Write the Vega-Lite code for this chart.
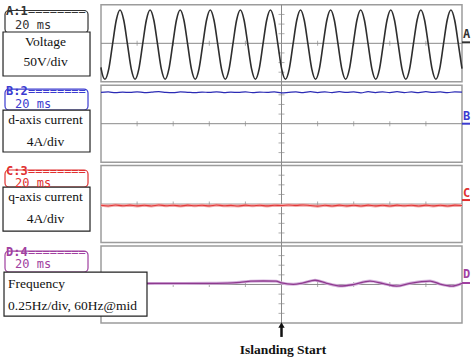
{
"$schema":"https://vega.github.io/schema/vega-lite/v6.json",
"width":474,"height":361,"padding":0,"autosize":{"type":"none"},"background":"white",
"config":{"view":{"stroke":null}},
"datasets":{
"sine":[{"t":-100,"v":-125},{"t":-99.89,"v":-134},{"t":-97.80,"v":-187},{"t":-95.72,"v":-134},{"t":-93.64,"v":-7},{"t":-91.55,"v":120},{"t":-89.47,"v":173},{"t":-87.39,"v":120},{"t":-85.30,"v":-7},{"t":-83.22,"v":-134},{"t":-81.14,"v":-187},{"t":-79.05,"v":-134},{"t":-76.97,"v":-7},{"t":-74.89,"v":120},{"t":-72.80,"v":173},{"t":-70.72,"v":120},{"t":-68.64,"v":-7},{"t":-66.55,"v":-134},{"t":-64.47,"v":-187},{"t":-62.39,"v":-134},{"t":-60.30,"v":-7},{"t":-58.22,"v":120},{"t":-56.14,"v":173},{"t":-54.05,"v":120},{"t":-51.97,"v":-7},{"t":-49.89,"v":-134},{"t":-47.80,"v":-187},{"t":-45.72,"v":-134},{"t":-43.64,"v":-7},{"t":-41.55,"v":120},{"t":-39.47,"v":173},{"t":-37.39,"v":120},{"t":-35.30,"v":-7},{"t":-33.22,"v":-134},{"t":-31.14,"v":-187},{"t":-29.05,"v":-134},{"t":-26.97,"v":-7},{"t":-24.89,"v":120},{"t":-22.80,"v":173},{"t":-20.72,"v":120},{"t":-18.64,"v":-7},{"t":-16.55,"v":-134},{"t":-14.47,"v":-187},{"t":-12.39,"v":-134},{"t":-10.30,"v":-7},{"t":-8.22,"v":120},{"t":-6.14,"v":173},{"t":-4.05,"v":120},{"t":-1.97,"v":-7},{"t":0.11,"v":-134},{"t":2.20,"v":-187},{"t":4.28,"v":-134},{"t":6.36,"v":-7},{"t":8.45,"v":120},{"t":10.53,"v":173},{"t":12.61,"v":120},{"t":14.70,"v":-7},{"t":16.78,"v":-134},{"t":18.86,"v":-187},{"t":20.95,"v":-134},{"t":23.03,"v":-7},{"t":25.11,"v":120},{"t":27.20,"v":173},{"t":29.28,"v":120},{"t":31.36,"v":-7},{"t":33.45,"v":-134},{"t":35.53,"v":-187},{"t":37.61,"v":-134},{"t":39.70,"v":-7},{"t":41.78,"v":120},{"t":43.86,"v":173},{"t":45.95,"v":120},{"t":48.03,"v":-7},{"t":50.11,"v":-134},{"t":52.20,"v":-187},{"t":54.28,"v":-134},{"t":56.36,"v":-7},{"t":58.45,"v":120},{"t":60.53,"v":173},{"t":62.61,"v":120},{"t":64.70,"v":-7},{"t":66.78,"v":-134},{"t":68.86,"v":-187},{"t":70.95,"v":-134},{"t":73.03,"v":-7},{"t":75.11,"v":120},{"t":77.20,"v":173},{"t":79.28,"v":120},{"t":81.36,"v":-7},{"t":83.45,"v":-134},{"t":85.53,"v":-187},{"t":87.61,"v":-134},{"t":89.70,"v":-7},{"t":91.78,"v":120},{"t":93.86,"v":173},{"t":95.95,"v":120},{"t":98.03,"v":-7},{"t":100,"v":-132}],
"dcur":[{"t":-100,"i":13.0},{"t":-96,"i":13.2},{"t":-92,"i":12.9},{"t":-88,"i":13.1},{"t":-84,"i":13.0},{"t":-80,"i":13.25},{"t":-76,"i":12.95},{"t":-72,"i":13.1},{"t":-68,"i":13.3},{"t":-64,"i":13.0},{"t":-60,"i":12.9},{"t":-56,"i":13.2},{"t":-52,"i":13.05},{"t":-48,"i":12.9},{"t":-44,"i":13.15},{"t":-40,"i":13.0},{"t":-36,"i":13.25},{"t":-32,"i":12.95},{"t":-28,"i":13.1},{"t":-24,"i":13.0},{"t":-20,"i":13.2},{"t":-16,"i":12.95},{"t":-12,"i":13.1},{"t":-8,"i":13.05},{"t":-4,"i":13.2},{"t":0,"i":12.8},{"t":4,"i":13.0},{"t":8,"i":13.2},{"t":12,"i":12.9},{"t":16,"i":13.3},{"t":20,"i":12.95},{"t":24,"i":13.25},{"t":28,"i":12.9},{"t":32,"i":13.3},{"t":36,"i":13.0},{"t":40,"i":13.25},{"t":44,"i":12.85},{"t":48,"i":13.3},{"t":52,"i":12.95},{"t":56,"i":13.25},{"t":60,"i":12.9},{"t":64,"i":13.3},{"t":68,"i":12.95},{"t":72,"i":13.2},{"t":76,"i":12.9},{"t":80,"i":13.3},{"t":84,"i":13.0},{"t":88,"i":13.2},{"t":92,"i":12.9},{"t":96,"i":13.25},{"t":100,"i":13.1}],
"qcur":[{"t":-100,"i":-0.5},{"t":-96,"i":-0.8},{"t":-92,"i":-0.4},{"t":-88,"i":-0.7},{"t":-84,"i":-0.45},{"t":-80,"i":-0.75},{"t":-76,"i":-0.5},{"t":-72,"i":-0.8},{"t":-68,"i":-0.4},{"t":-64,"i":-0.7},{"t":-60,"i":-0.5},{"t":-56,"i":-0.8},{"t":-52,"i":-0.45},{"t":-48,"i":-0.7},{"t":-44,"i":-0.5},{"t":-40,"i":-0.75},{"t":-36,"i":-0.4},{"t":-32,"i":-0.7},{"t":-28,"i":-0.55},{"t":-24,"i":-0.8},{"t":-20,"i":-0.45},{"t":-16,"i":-0.7},{"t":-12,"i":-0.5},{"t":-8,"i":-0.75},{"t":-4,"i":-0.5},{"t":0,"i":-0.6},{"t":4,"i":-0.4},{"t":8,"i":-0.55},{"t":12,"i":-0.35},{"t":16,"i":-0.6},{"t":20,"i":-0.85},{"t":24,"i":-0.5},{"t":28,"i":-0.8},{"t":32,"i":-0.45},{"t":36,"i":-0.75},{"t":40,"i":-0.5},{"t":44,"i":-0.8},{"t":48,"i":-0.45},{"t":52,"i":-0.75},{"t":56,"i":-0.5},{"t":60,"i":-0.8},{"t":64,"i":-0.45},{"t":68,"i":-0.7},{"t":72,"i":-0.5},{"t":76,"i":-0.8},{"t":80,"i":-0.45},{"t":84,"i":-0.75},{"t":88,"i":-0.5},{"t":92,"i":-0.8},{"t":96,"i":-0.45},{"t":100,"i":-0.6}],
"freq":[{"t":-100,"f":60.023},{"t":-80,"f":60.025},{"t":-60,"f":60.027},{"t":-40,"f":60.03},{"t":-30,"f":60.035},{"t":-23,"f":60.055},{"t":-17,"f":60.085},{"t":-10,"f":60.09},{"t":-3,"f":60.085},{"t":0,"f":60.04},{"t":6.5,"f":60.003},{"t":12,"f":60.04},{"t":18.6,"f":60.11},{"t":25,"f":60.03},{"t":32.4,"f":59.96},{"t":39.8,"f":59.997},{"t":49,"f":60.088},{"t":56.4,"f":60.023},{"t":63.8,"f":59.958},{"t":71.2,"f":60.03},{"t":82.3,"f":60.088},{"t":87.8,"f":60.01},{"t":94.3,"f":59.958},{"t":100,"f":60.03}],
"frames":[{"panel":"A","t":-100,"t2":100,"g":0.5,"g2":8.5},{"panel":"B","t":-100,"t2":100,"g":8.85,"g2":16.85},{"panel":"C","t":-100,"t2":100,"g":17.2,"g2":25.2},{"panel":"D","t":-100,"t2":100,"g":25.55,"g2":33.55}],
"centers":[{"t":-100,"t2":100,"g":4.5},{"t":-100,"t2":100,"g":12.85},{"t":-100,"t2":100,"g":21.2},{"t":-100,"t2":100,"g":29.55}],
"vline":[{"t":0,"g":0.5,"g2":33.55}],
"hticks":[{"t":-80,"g":4.5},{"t":-60,"g":4.5},{"t":-40,"g":4.5},{"t":-20,"g":4.5},{"t":20,"g":4.5},{"t":40,"g":4.5},{"t":60,"g":4.5},{"t":80,"g":4.5},{"t":-80,"g":12.85},{"t":-60,"g":12.85},{"t":-40,"g":12.85},{"t":-20,"g":12.85},{"t":20,"g":12.85},{"t":40,"g":12.85},{"t":60,"g":12.85},{"t":80,"g":12.85},{"t":-80,"g":21.2},{"t":-60,"g":21.2},{"t":-40,"g":21.2},{"t":-20,"g":21.2},{"t":20,"g":21.2},{"t":40,"g":21.2},{"t":60,"g":21.2},{"t":80,"g":21.2},{"t":-80,"g":29.55},{"t":-60,"g":29.55},{"t":-40,"g":29.55},{"t":-20,"g":29.55},{"t":20,"g":29.55},{"t":40,"g":29.55},{"t":60,"g":29.55},{"t":80,"g":29.55}],
"vticks":[{"t":0,"g":1.5},{"t":0,"g":2.5},{"t":0,"g":3.5},{"t":0,"g":5.5},{"t":0,"g":6.5},{"t":0,"g":7.5},{"t":0,"g":9.85},{"t":0,"g":10.85},{"t":0,"g":11.85},{"t":0,"g":13.85},{"t":0,"g":14.85},{"t":0,"g":15.85},{"t":0,"g":18.2},{"t":0,"g":19.2},{"t":0,"g":20.2},{"t":0,"g":22.2},{"t":0,"g":23.2},{"t":0,"g":24.2},{"t":0,"g":26.55},{"t":0,"g":27.55},{"t":0,"g":28.55},{"t":0,"g":30.55},{"t":0,"g":31.55},{"t":0,"g":32.55}],
"tabs":[{"ch":"A","t":-153.19,"t2":-107.2,"g":1.09,"g2":3.43},{"ch":"B","t":-153.19,"t2":-107.2,"g":9.25,"g2":11.43},{"ch":"C","t":-153.19,"t2":-107.2,"g":17.66,"g2":19.43},{"ch":"D","t":-153.19,"t2":-107.2,"g":26.08,"g2":28.26}],
"boxes":[{"t":-154.29,"t2":-106.09,"g":3.325,"g2":7.896},{"t":-154.29,"t2":-106.09,"g":11.43,"g2":15.79},{"t":-154.29,"t2":-106.09,"g":19.43,"g2":24.0},{"t":-153.74,"t2":-74.52,"g":28.26,"g2":32.83}],
"boxtextC":[{"label":"Voltage","t":-130.75,"g":4.33},{"label":"50V/div","t":-130.75,"g":6.47},{"label":"d-axis current","t":-130.75,"g":12.47},{"label":"4A/div","t":-130.75,"g":14.72},{"label":"q-axis current","t":-130.75,"g":20.5},{"label":"4A/div","t":-130.75,"g":22.79}],
"boxtextL":[{"label":"Frequency","t":-151.52,"g":29.51},{"label":"0.25Hz/div, 60Hz@mid","t":-151.52,"g":31.76}],
"hdrBold":[{"ch":"A","label":"A:1","t":-152.63,"g":1.61},{"ch":"B","label":"B:2","t":-152.63,"g":9.92},{"ch":"C","label":"C:3","t":-152.63,"g":18.13},{"ch":"D","label":"D:4","t":-152.63,"g":26.55}],
"hdrNorm":[{"ch":"A","label":"========","t":-140.44,"g":1.61},{"ch":"B","label":"========","t":-140.44,"g":9.92},{"ch":"C","label":"========","t":-140.44,"g":18.13},{"ch":"D","label":"========","t":-140.44,"g":26.55},{"ch":"A","label":"20 ms","t":-147.65,"g":3.01},{"ch":"B","label":"20 ms","t":-147.65,"g":11.27},{"ch":"C","label":"20 ms","t":-147.65,"g":19.38},{"ch":"D","label":"20 ms","t":-147.65,"g":27.79}],
"markers":[{"ch":"A","label":"A","t":100.55,"g":3.95},{"ch":"B","label":"B","t":100.55,"g":12.47},{"ch":"C","label":"C","t":100.55,"g":20.47},{"ch":"D","label":"D","t":100.55,"g":28.88}],
"underl":[{"ch":"A","t":100,"t2":104.43,"g":4.4},{"ch":"B","t":100,"t2":104.43,"g":12.85},{"ch":"C","t":100,"t2":104.43,"g":20.78},{"ch":"D","t":100,"t2":104.43,"g":29.4}],
"arrow":[{"t":0,"g":33.95,"g2":35.0}],
"arrowhead":[{"t":0,"g":33.75}],
"caption":[{"label":"Islanding Start","t":0.83,"g":36.78}]
},
"encoding":{
"x":{"field":"t","type":"quantitative","scale":{"domain":[-155.96,106.65],"nice":false,"zero":false},"axis":null},
"y":{"field":"g","type":"quantitative","scale":{"domain":[0,37.5],"reverse":true,"nice":false,"zero":false},"axis":null}
},
"resolve":{"scale":{"y":"independent"}},
"layer":[
{"data":{"name":"frames"},"mark":{"type":"rect","fill":"white","stroke":"#9c9c9c","strokeWidth":1.5},"encoding":{"x2":{"field":"t2"},"y2":{"field":"g2"}}},
{"data":{"name":"centers"},"mark":{"type":"rule","color":"#8a8a8a","strokeWidth":1},"encoding":{"x2":{"field":"t2"}}},
{"data":{"name":"vline"},"mark":{"type":"rule","color":"#8a8a8a","strokeWidth":1},"encoding":{"y2":{"field":"g2"}}},
{"data":{"name":"hticks"},"mark":{"type":"tick","orient":"vertical","size":5,"thickness":1,"color":"#8a8a8a"}},
{"data":{"name":"vticks"},"mark":{"type":"tick","orient":"horizontal","size":6,"thickness":1,"color":"#8a8a8a"}},
{"data":{"name":"sine"},"mark":{"type":"line","color":"#2e2e2e","strokeWidth":1.6,"interpolate":"monotone"},"encoding":{"y":{"field":"v","type":"quantitative","scale":{"domain":[-1650,225],"nice":false,"zero":false},"axis":null}}},
{"data":{"name":"dcur"},"mark":{"type":"line","color":"#2b2bb5","strokeWidth":1.2,"interpolate":"monotone"},"encoding":{"y":{"field":"i","type":"quantitative","scale":{"domain":[-98.6,51.4],"nice":false,"zero":false},"axis":null}}},
{"data":{"name":"qcur"},"mark":{"type":"line","color":"#f2a8a8","strokeWidth":3,"interpolate":"linear"},"encoding":{"y":{"field":"i","type":"quantitative","scale":{"domain":[-65.2,84.8],"nice":false,"zero":false},"axis":null}}},
{"data":{"name":"qcur"},"mark":{"type":"line","color":"#e03a3a","strokeWidth":1.1,"interpolate":"monotone"},"encoding":{"y":{"field":"i","type":"quantitative","scale":{"domain":[-65.2,84.8],"nice":false,"zero":false},"axis":null}}},
{"data":{"name":"freq"},"mark":{"type":"line","color":"#d4b0dc","strokeWidth":3,"interpolate":"monotone"},"encoding":{"y":{"field":"f","type":"quantitative","scale":{"domain":[58.0125,67.3875],"nice":false,"zero":false},"axis":null}}},
{"data":{"name":"freq"},"mark":{"type":"line","color":"#8e3a8e","strokeWidth":1.3,"interpolate":"monotone"},"encoding":{"y":{"field":"f","type":"quantitative","scale":{"domain":[58.0125,67.3875],"nice":false,"zero":false},"axis":null}}},
{"data":{"name":"tabs"},"mark":{"type":"rect","filled":false,"cornerRadius":4,"strokeWidth":1.2},"encoding":{"x2":{"field":"t2"},"y2":{"field":"g2"},"color":{"field":"ch","type":"nominal","scale":{"domain":["A","B","C","D"],"range":["#333333","#3b3bd0","#e03030","#a040a0"]},"legend":null}}},
{"data":{"name":"boxes"},"mark":{"type":"rect","fill":"white","stroke":"#222222","strokeWidth":1.2},"encoding":{"x2":{"field":"t2"},"y2":{"field":"g2"}}},
{"data":{"name":"boxtextC"},"mark":{"type":"text","font":"Liberation Serif","fontSize":13.5,"align":"center","baseline":"middle","color":"#111111"},"encoding":{"text":{"field":"label"}}},
{"data":{"name":"boxtextL"},"mark":{"type":"text","font":"Liberation Serif","fontSize":13.5,"align":"left","baseline":"middle","color":"#111111"},"encoding":{"text":{"field":"label"}}},
{"data":{"name":"hdrBold"},"mark":{"type":"text","font":"DejaVu Sans Mono","fontSize":12,"fontWeight":"bold","align":"left","baseline":"alphabetic"},"encoding":{"text":{"field":"label"},"color":{"field":"ch","type":"nominal","legend":null}}},
{"data":{"name":"hdrNorm"},"mark":{"type":"text","font":"DejaVu Sans Mono","fontSize":12,"align":"left","baseline":"alphabetic"},"encoding":{"text":{"field":"label"},"color":{"field":"ch","type":"nominal","legend":null}}},
{"data":{"name":"markers"},"mark":{"type":"text","font":"DejaVu Sans Mono","fontSize":12,"fontWeight":"bold","align":"left","baseline":"alphabetic"},"encoding":{"text":{"field":"label"},"color":{"field":"ch","type":"nominal","legend":null}}},
{"data":{"name":"underl"},"mark":{"type":"rule","strokeWidth":2},"encoding":{"x2":{"field":"t2"},"color":{"field":"ch","type":"nominal","legend":null}}},
{"data":{"name":"arrow"},"mark":{"type":"rule","color":"#111111","strokeWidth":2.5},"encoding":{"y2":{"field":"g2"}}},
{"data":{"name":"arrowhead"},"mark":{"type":"point","shape":"triangle-up","filled":true,"size":40,"color":"#111111","opacity":1}},
{"data":{"name":"caption"},"mark":{"type":"text","font":"Liberation Serif","fontSize":13.5,"fontWeight":"bold","align":"center","baseline":"alphabetic","color":"#111111"},"encoding":{"text":{"field":"label"}}}
]
}
